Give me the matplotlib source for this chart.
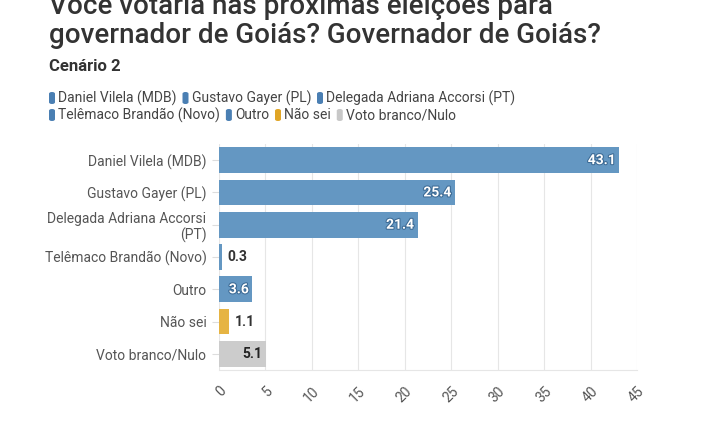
import matplotlib
matplotlib.use("Agg")
import matplotlib.pyplot as plt
from matplotlib.patches import FancyBboxPatch
import matplotlib.patheffects as pe

categories = ["Daniel Vilela (MDB)", "Gustavo Gayer (PL)", "Delegada Adriana Accorsi\n(PT)",
              "Telêmaco Brandão (Novo)", "Outro", "Não sei", "Voto branco/Nulo"]
legend_labels = ["Daniel Vilela (MDB)", "Gustavo Gayer (PL)", "Delegada Adriana Accorsi (PT)",
                 "Telêmaco Brandão (Novo)", "Outro", "Não sei", "Voto branco/Nulo"]
values = [43.1, 25.4, 21.4, 0.3, 3.6, 1.1, 5.1]
colors = ["#6497c2", "#6497c2", "#6497c2", "#6497c2", "#6497c2", "#e6b443", "#cccccc"]
legend_colors = ["#4a7fb3", "#4a7fb3", "#4a7fb3", "#4a7fb3", "#4a7fb3", "#e0a526", "#c8c8c8"]
xticks = [0, 5, 10, 15, 20, 25, 30, 35, 40, 45]

FONT = "Roboto"
plt.rcParams["font.family"] = [FONT, "DejaVu Sans"]

fig = plt.figure(figsize=(7.2, 4.3), dpi=100)
W, H = 720, 430

def fx(px):
    return px / W

def fy(py):
    return 1 - py / H

# Title (top line clipped, as in the reference)
fig.text(fx(49), fy(14), "Você votaria nas próximas eleições para", fontsize=20, color="#333333",
         va="baseline", ha="left", fontweight="medium")
fig.text(fx(49), fy(43), "governador de Goiás? Governador de Goiás?", fontsize=20, color="#333333",
         va="baseline", ha="left", fontweight="medium")
fig.text(fx(49), fy(71), "Cenário 2", fontsize=12, color="#333333", va="baseline", ha="left",
         fontweight="bold")

# Legend
rows = [[0, 1, 2], [3, 4, 5, 6]]
row_y = [98, 115]
renderer = fig.canvas.get_renderer()
for r, idxs in enumerate(rows):
    x = 49
    for i in idxs:
        yc = row_y[r]
        box = FancyBboxPatch((fx(x), fy(yc + 6)), fx(6), 12 / H,
                             boxstyle="round,pad=0,rounding_size=0.004",
                             transform=fig.transFigure, facecolor=legend_colors[i],
                             edgecolor="none")
        fig.patches.append(box)
        t = fig.text(fx(x + 9), fy(yc), legend_labels[i], fontsize=10, color="#444444",
                     va="center", ha="left")
        bb = t.get_window_extent(renderer)
        x = x + 9 + bb.width + 6

ax = fig.add_axes([fx(219), fy(370), fx(637) - fx(219), (370 - 144) / H])
y = list(range(len(categories)))
bars = ax.barh(y, values, height=0.8, color=colors, zorder=3)
ax.set_ylim(len(categories) - 0.5, -0.5)
ax.set_xlim(0, 45)
ax.set_xticks(xticks)
ax.set_xticklabels([str(t) for t in xticks], rotation=45, ha="right", rotation_mode="anchor",
                   fontsize=10, color="#555555")
ax.set_yticks(y)
ax.set_yticklabels(categories, fontsize=10, color="#555555", ma="right")
ax.tick_params(axis="x", length=0, pad=10)
ax.tick_params(axis="y", length=5, color="#dddddd", pad=4)
ax.grid(axis="x", color="#e6e6e6", linewidth=0.8, zorder=0)
for s in ["top", "right", "left"]:
    ax.spines[s].set_visible(False)
ax.spines["bottom"].set_color("#e6e6e6")

for i, (b, v) in enumerate(zip(bars, values)):
    yc = b.get_y() + b.get_height() / 2
    label = f"{v:.1f}"
    if v >= 3:
        if colors[i] == "#cccccc":
            ax.text(v - 0.4, yc, label, ha="right", va="center", fontsize=10, fontweight="bold",
                    color="#222222", zorder=4)
        else:
            ax.text(v - 0.4, yc, label, ha="right", va="center", fontsize=10, fontweight="bold",
                    color="white", zorder=4,
                    path_effects=[pe.withStroke(linewidth=1.5, foreground="#3c6a94")])
    else:
        ax.text(v + 0.6, yc, label, ha="left", va="center", fontsize=10, fontweight="bold",
                color="#333333", zorder=4)

fig.savefig("out.png", dpi=100)
